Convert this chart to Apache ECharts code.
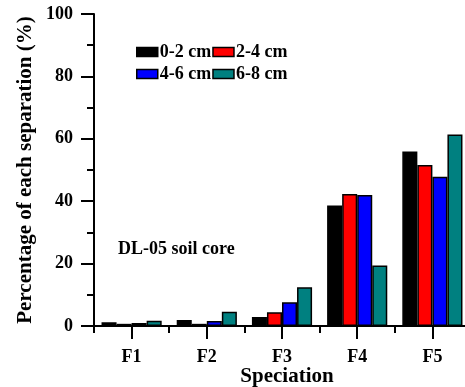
<!DOCTYPE html>
<html>
<head>
<meta charset="utf-8">
<script src="https://cdn.jsdelivr.net/npm/echarts@6/dist/echarts.min.js"></script>
<style>html,body{margin:0;padding:0;background:#fff;}#c{width:465px;height:387px;}</style>
</head>
<body>
<div id="c"></div>
<script>
var categories = ['F1', 'F2', 'F3', 'F4', 'F5'];
var seriesNames = ['0-2 cm', '2-4 cm', '4-6 cm', '6-8 cm'];
var s0_2 = [1.2, 1.9, 2.9, 38.6, 55.9];
var s2_4 = [0.7, 0.7, 4.4, 42.3, 51.6];
var s4_6 = [1.0, 1.6, 7.6, 42.0, 47.8];
var s6_8 = [1.7, 4.6, 12.4, 19.4, 61.4];
var yTicks = [0, 20, 40, 60, 80, 100];
var colors = ['#000000', '#ff0000', '#0000ff', '#008080'];

var font = '"Liberation Serif", "Times New Roman", serif';
var chart = echarts.init(document.getElementById('c'), null, {renderer: 'canvas'});
var values = [s0_2, s2_4, s4_6, s6_8];
var series = values.map(function (v, i) {
  return {
    name: seriesNames[i], type: 'bar', data: v, xAxisIndex: 0,
    barGap: '0%', barCategoryGap: '20%',
    itemStyle: {color: colors[i], borderColor: '#000', borderWidth: 1.5},
    emphasis: {disabled: true}
  };
});
var legendCommon = {
  orient: 'horizontal', itemWidth: 21, itemHeight: 9, itemGap: 1,
  icon: 'rect',
  textStyle: {fontFamily: font, fontWeight: 'bold', fontSize: 18, color: '#000', padding: [0, 0, 0, -3]},
  itemStyle: {borderColor: '#000', borderWidth: 1.5},
  selectedMode: false
};
chart.setOption({
  animation: false,
  color: colors,
  grid: {left: 94, top: 14, width: 376, height: 312, containLabel: false, outerBoundsMode: 'none'},
  legend: [
    Object.assign({}, legendCommon, {data: seriesNames.slice(0, 2), left: 131, top: 38}),
    Object.assign({}, legendCommon, {data: seriesNames.slice(2, 4), left: 131, top: 60})
  ],
  graphic: [{
    type: 'text', left: 118, top: 240,
    style: {text: 'DL-05 soil core', font: 'bold 18px ' + font, fill: '#000'}
  }],
  xAxis: [{
    type: 'category', data: categories,
    name: 'Speciation', nameLocation: 'middle', nameGap: 40, nameMoveOverlap: false,
    nameTextStyle: {fontFamily: font, fontWeight: 'bold', fontSize: 21, color: '#000', padding: [0, 0, 0, 10]},
    axisLine: {lineStyle: {color: '#000', width: 2}},
    axisTick: {show: true, alignWithLabel: true, length: 13, lineStyle: {color: '#000', width: 2}},
    axisLabel: {fontFamily: font, fontWeight: 'bold', fontSize: 18, color: '#000', margin: 22},
    splitLine: {show: false}
  }, {
    type: 'category', data: categories, position: 'bottom', offset: 0,
    axisLine: {show: false},
    axisTick: {show: true, alignWithLabel: false, length: 7, lineStyle: {color: '#000', width: 2}},
    axisLabel: {show: false},
    splitLine: {show: false}
  }],
  yAxis: {
    type: 'value', min: yTicks[0], max: yTicks[yTicks.length - 1], interval: 20,
    name: 'Percentage of each separation (%)', nameLocation: 'middle', nameGap: 58, nameRotate: 90,
    nameMoveOverlap: false,
    nameTextStyle: {fontFamily: font, fontWeight: 'bold', fontSize: 21, color: '#000'},
    axisLine: {show: true, lineStyle: {color: '#000', width: 2}},
    axisTick: {show: true, length: 13, lineStyle: {color: '#000', width: 2}},
    minorTick: {show: true, splitNumber: 2, length: 7, lineStyle: {color: '#000', width: 2}},
    axisLabel: {fontFamily: font, fontWeight: 'bold', fontSize: 18, color: '#000', margin: 21},
    splitLine: {show: false}
  },
  series: series
});
</script>
</body>
</html>
